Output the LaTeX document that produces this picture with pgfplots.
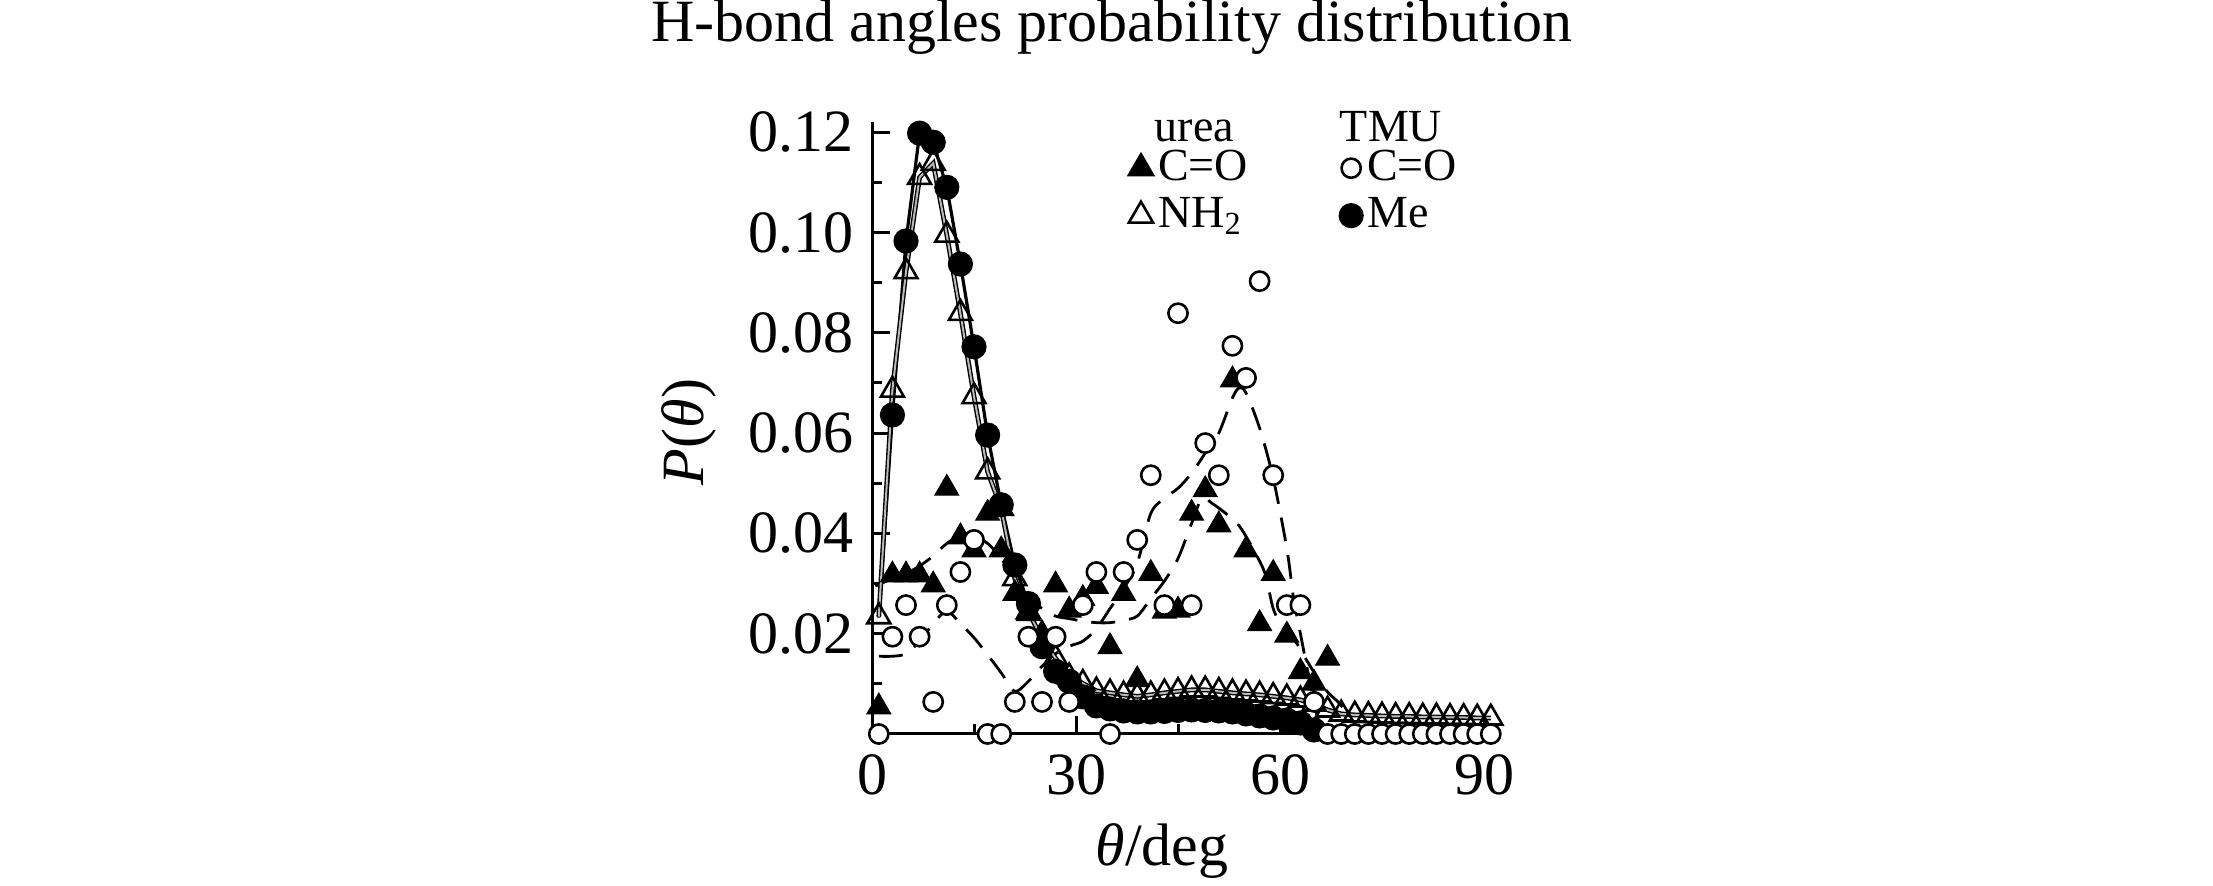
\documentclass[border=0pt]{standalone}
\usepackage{fontspec}
\setmainfont{Liberation Serif}
\usepackage{pgfplots}
\pgfplotsset{compat=1.18}
\begin{document}
\begin{tikzpicture}
\begin{axis}[
  at={(218pt,38pt)}, anchor=south west,
  scale only axis, width=156.4pt, height=152.96pt,
  xmin=0, xmax=92, ymin=0, ymax=0.122,
  axis x line*=bottom, axis y line*=left,
  clip=false,
  xtick={0,30,60,90}, minor xtick={15,45,75},
  ytick={0.02,0.04,0.06,0.08,0.10,0.12},
  minor ytick={0.01,0.03,0.05,0.07,0.09,0.11},
  tick align=inside,
  major tick length=4.5pt, minor tick length=2.5pt,
  every tick/.style={black, line width=0.75pt},
  axis line style={line width=0.75pt},
  tick label style={font=\fontsize{15}{18}\selectfont},
  /pgf/number format/assume math mode=true,
  yticklabel style={/pgf/number format/fixed, /pgf/number format/fixed zerofill, /pgf/number format/precision=2, xshift=-1pt},
  xticklabel style={yshift=-1.5pt},
  scaled y ticks=false,
  xlabel={\textit{θ}/deg},
  xlabel style={at={(axis description cs:0.4636,-0.2157)}, anchor=base, font=\fontsize{15}{18}\selectfont, inner sep=0pt},
  ylabel={\textit{P}(\textit{θ})},
  ylabel style={at={(axis description cs:-0.2925,0.4935)}, anchor=center, font=\fontsize{15}{18}\selectfont, inner sep=0pt},
  legend columns=2,
  legend cell align=left,
  legend image code/.code={\draw[#1] plot coordinates {(0pt,0pt)};},
  legend style={at={(axis description cs:0.4076,1.0402)}, anchor=north west, draw=none, fill=none, inner sep=0pt,
    font=\fontsize{11.5}{13.5}\selectfont, nodes={inner sep=1pt},
    /tikz/every even column/.append style={column sep=21.8pt}, row sep=0.8pt},
]
% dashed fit curves
\addplot[forget plot, black, line width=0.7pt, dash pattern=on 6pt off 3.5pt, smooth, tension=0.5] coordinates {
(1,0.0155) (3,0.0155) (5,0.016) (7,0.0185) (9,0.022) (11,0.0245) (13,0.022) (15,0.0192) (17,0.0158) (19,0.0122) (21,0.0085) (23,0.0105) (25,0.0135) (27,0.016) (29,0.0175) (31,0.0185) (33,0.021) (35,0.025) (37,0.029) (39,0.034) (41,0.044) (43,0.047) (45,0.049) (47,0.052) (49,0.056) (51,0.060) (53,0.067) (54,0.069) (55,0.068) (57,0.061) (59,0.051) (61,0.037) (62,0.027) (63,0.02) (64,0.013) (65,0.006) (66,0.001)};
\addplot[forget plot, black, line width=0.7pt, dash pattern=on 6pt off 3.5pt, smooth, tension=0.5] coordinates {
(0.5,0.0295) (3,0.031) (5,0.032) (7,0.0335) (9,0.0355) (11,0.038) (13,0.0395) (15,0.0395) (17,0.038) (19,0.035) (21,0.031) (23,0.0275) (25,0.025) (27,0.0235) (29,0.023) (31,0.0225) (33,0.0222) (35,0.0222) (37,0.0227) (39,0.0235) (41,0.027) (43,0.0305) (45,0.035) (47,0.042) (48.5,0.047) (50,0.046) (52,0.044) (54,0.0415) (56,0.037) (57.8,0.032) (59,0.025) (60.5,0.021) (62.5,0.018) (64,0.0145) (66.6,0.009) (68.8,0.006) (71,0.002)};
% urea C=O (filled triangles)
\addplot[forget plot, only marks, mark=triangle*, mark size=3.4pt, mark options={fill=black, draw=black, line width=0.3pt}] coordinates {
(1,0.0054) (3,0.0317) (5,0.0317) (7,0.0317) (9,0.0297) (11,0.049) (13,0.0393) (15,0.0367) (17,0.044) (19,0.0367) (21,0.028) (23,0.024) (25,0.020) (27,0.0297) (29,0.0247) (31,0.027) (33,0.0294) (35,0.0174) (37,0.028) (39,0.0108) (41,0.0320) (43,0.0245) (45,0.0247) (47,0.044) (49,0.0487) (51,0.0417) (53,0.0706) (55,0.0367) (57,0.022) (59,0.032) (61,0.0197) (63,0.0124) (65,0.0101) (67,0.0151)};
% TMU Me: line (starting under the first NH2 triangle) and filled circles
\addplot[forget plot, black, line width=0.8pt] coordinates {
(1,0.0232) (3,0.0636) (5,0.0983) (7,0.1198) (9,0.118) (11,0.109) (13,0.0937) (15,0.0772) (17,0.0596) (19,0.0457) (21,0.0337) (23,0.026) (25,0.0174) (27,0.0125) (29,0.0105) (31,0.0074) (33,0.0056) (35,0.005) (37,0.0046) (39,0.0044) (41,0.0044) (43,0.0045) (45,0.0047) (47,0.0048) (49,0.0047) (51,0.0046) (53,0.0044) (55,0.004) (57,0.0036) (59,0.0032) (61,0.0028) (63,0.0022) (65,0.0008)};
\addplot[forget plot, only marks, mark=*, mark size=3pt, mark options={fill=black, draw=black, line width=0.3pt}] coordinates {
(3,0.0636) (5,0.0983) (7,0.1198) (9,0.118) (11,0.109) (13,0.0937) (15,0.0772) (17,0.0596) (19,0.0457) (21,0.0337) (23,0.026) (25,0.0174) (27,0.0125) (29,0.0105) (31,0.0074) (33,0.0056) (35,0.005) (37,0.0046) (39,0.0044) (41,0.0044) (43,0.0045) (45,0.0047) (47,0.0048) (49,0.0047) (51,0.0046) (53,0.0044) (55,0.004) (57,0.0036) (59,0.0032) (61,0.0028) (63,0.0022) (65,0.0008)};
% urea NH2 (open triangles, grey double line)
\addplot[forget plot, draw=black, line width=0.35pt, double=gray!55, double distance=0.5pt, mark=triangle, mark size=3.3pt, mark options={fill=white, draw=black, line width=0.65pt, solid, double=none}] coordinates {
(1,0.0234) (3,0.0686) (5,0.0922) (7,0.111) (9,0.1138) (11,0.0995) (13,0.0839) (15,0.0673) (17,0.0523) (19,0.045) (21,0.031) (23,0.0244) (25,0.019) (27,0.0151) (29,0.0114) (31,0.0101) (33,0.0086) (35,0.0082) (37,0.0078) (39,0.0075) (41,0.0078) (43,0.0082) (45,0.0085) (47,0.0088) (49,0.0088) (51,0.0085) (53,0.0082) (55,0.008) (57,0.0078) (59,0.0075) (61,0.0072) (63,0.0068) (65,0.006) (67,0.0048) (69,0.0040) (71,0.0038) (73,0.0037) (75,0.0036) (77,0.0035) (79,0.0035) (81,0.0034) (83,0.0034) (85,0.0033) (87,0.0033) (89,0.0032) (91,0.0032)};
% TMU C=O (open circles)
\addplot[forget plot, only marks, mark=*, mark size=2.4pt, mark options={fill=white, draw=black, line width=0.65pt}] coordinates {
(1,0) (3,0.0194) (5,0.0257) (7,0.0194) (9,0.0064) (11,0.0257) (13,0.0323) (15,0.0387) (17,0) (19,0) (21,0.0064) (23,0.0194) (25,0.0064) (27,0.0194) (29,0.0064) (31,0.0257) (33,0.0323) (35,0) (37,0.0323) (39,0.0387) (41,0.0516) (43,0.0257) (45,0.0839) (47,0.0257) (49,0.0580) (51,0.0516) (53,0.0774) (55,0.0710) (57,0.0903) (59,0.0516) (61,0.0257) (63,0.0257) (65,0.0064) (67,0) (69,0) (71,0) (73,0) (75,0) (77,0) (79,0) (81,0) (83,0) (85,0) (87,0) (89,0) (91,0)};
% legend
\addlegendimage{empty legend}
\addlegendentry{\hspace*{-0.8pt}\raisebox{-2.3pt}[7.6pt][0pt]{urea}}
\addlegendimage{empty legend}
\addlegendentry{\hspace*{-6.8pt}\raisebox{-2.3pt}[7.6pt][0pt]{TMU}}
\addlegendimage{mark=triangle*, mark size=3.8pt, mark options={fill=black, draw=black, line width=0.3pt}}
\addlegendentry{C=O}
\addlegendimage{mark=*, mark size=2.4pt, mark options={fill=white, draw=black, line width=0.65pt}}
\addlegendentry{C=O}
\addlegendimage{mark=triangle, mark size=3.5pt, mark options={fill=white, draw=black, line width=0.65pt}}
\addlegendentry{NH\textsubscript{2}}
\addlegendimage{mark=*, mark size=3pt, mark options={fill=black, draw=black, line width=0.3pt}}
\addlegendentry{Me}
% title
\node[anchor=base, font=\fontsize{15}{18}\selectfont, inner sep=0pt] at (rel axis cs:0.3836,1.131) {H-bond angles probability distribution};
\end{axis}
\pgfresetboundingbox
\path (0pt,0pt) rectangle (553.25pt,221.5pt);
\end{tikzpicture}
\end{document}
